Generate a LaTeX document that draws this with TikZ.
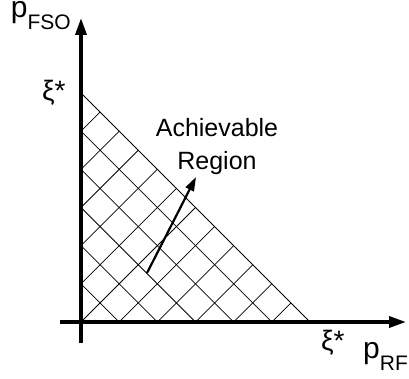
\documentclass[tikz,border=0pt]{standalone}
\usepackage{fontspec}
\setmainfont{Liberation Sans}
\usetikzlibrary{arrows.meta}

\newcommand{\axlabel}[2]{{\fontsize{30}{30}\selectfont #1}\raisebox{-12pt}{\fontsize{21}{21}\selectfont #2}}

\begin{document}
\begin{tikzpicture}[
  x=1pt, y=-1pt,
  axis/.style={line width=3.4pt, -{Triangle[length=17pt, width=11pt]}},
  hatch/.style={line width=0.75pt, black},
  pointer/.style={line width=2.2pt, -{Triangle[length=14pt, width=9pt]}},
  lbl/.style={inner sep=0pt, anchor=base west, font=\fontsize{28}{28}\selectfont},
]
\useasboundingbox (0,0) rectangle (409,379);

% corners of the region
\coordinate (origin) at (81,322);
\coordinate (ytop) at (81,93);
\coordinate (xtop) at (310,322);

% axes
\coordinate (xstart) at (60,322);
\coordinate (xend) at (406,322);
\coordinate (ystart) at (81,343);
\coordinate (yend) at (81,18);

% crossed hatching inside the triangle
\begin{scope}
  \clip (origin) -- (ytop) -- (xtop) -- cycle;
  \foreach \k in {1,...,5}
    \draw[hatch] (0,{12+\k*38.17}) -- (420,{432+\k*38.17});
  \foreach \j in {1,...,11}
    \draw[hatch] ({174+\j*38.17-400},400) -- ({174+\j*38.17},0);
\end{scope}
\draw[hatch] (ytop) -- (xtop);

\draw[axis] (xstart) -- (xend);
\draw[axis] (ystart) -- (yend);

% labels
\node[inner sep=0pt, anchor=base west] (pfso) at (10.7,18) {\axlabel{p}{FSO}};
\node[inner sep=0pt, anchor=base west] (prf) at (363,358) {\axlabel{p}{RF}};
\node[lbl] (xiy) at (42,101) {ξ*};
\node[lbl] (xix) at (321,350) {ξ*};

\node[align=center, anchor=base, inner sep=0pt,
      font=\fontsize{25}{33}\selectfont] (region) at (217,170)
  {Achievable\\Region};
\coordinate (ptail) at (147,273);
\coordinate (phead) at (196,177);
\draw[pointer] (ptail) -- (phead);

\end{tikzpicture}
\end{document}
